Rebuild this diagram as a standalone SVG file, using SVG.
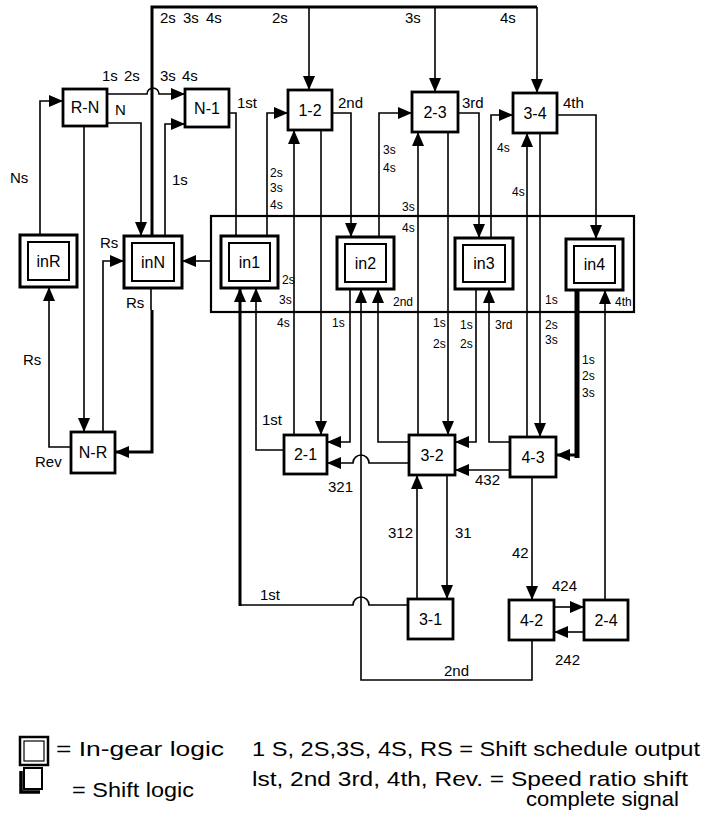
<svg xmlns="http://www.w3.org/2000/svg" width="704" height="823" viewBox="0 0 704 823">
<style>
.ln{fill:none;stroke:#000;stroke-width:1.6}
.th{fill:none;stroke:#000;stroke-width:3}
.tk{fill:none;stroke:#000;stroke-width:5}
.box{fill:#fff;stroke:#000;stroke-width:2.8}
.igo{fill:#fff;stroke:#000;stroke-width:3}
.igi{fill:none;stroke:#000;stroke-width:2}
text{font-family:"Liberation Sans",Arial,sans-serif;fill:#000}
.nt{font-size:16px;text-anchor:middle}
.lb{font-size:15px}
.sm{font-size:12px}
.lg{font-size:21px}
</style>
<defs>
<marker id="a" markerWidth="15" markerHeight="13" refX="14" refY="6" orient="auto" markerUnits="userSpaceOnUse">
<path d="M0,0 L14,6 L0,12 z" fill="#000"/>
</marker>
</defs>

<rect id="ingear-area" x="211" y="216" width="423" height="96" fill="none" stroke="#000" stroke-width="2.2"/>

<g id="inR"><rect class="igo" x="20" y="235" width="57" height="52"/><rect class="igi" x="28" y="242" width="41" height="38"/><text class="nt" x="48.5" y="267">inR</text></g>
<g id="inN"><rect class="igo" x="124" y="236" width="58" height="52"/><rect class="igi" x="132" y="243" width="42" height="38"/><text class="nt" x="153" y="268">inN</text></g>
<g id="in1"><rect class="igo" x="221" y="236" width="57" height="52"/><rect class="igi" x="229" y="243" width="41" height="38"/><text class="nt" x="249.5" y="268">in1</text></g>
<g id="in2"><rect class="igo" x="337" y="237" width="57" height="52"/><rect class="igi" x="345" y="244" width="41" height="38"/><text class="nt" x="365.5" y="269">in2</text></g>
<g id="in3"><rect class="igo" x="455" y="238" width="58" height="51"/><rect class="igi" x="463" y="245" width="42" height="37"/><text class="nt" x="484" y="269">in3</text></g>
<g id="in4"><rect class="igo" x="566" y="239" width="57" height="51"/><rect class="igi" x="574" y="246" width="41" height="37"/><text class="nt" x="594.5" y="270">in4</text></g>

<g id="R-N"><rect class="box" x="63" y="89" width="44" height="37"/><text class="nt" x="85" y="113">R-N</text></g>
<g id="N-1"><rect class="box" x="185" y="89" width="44" height="38"/><text class="nt" x="207" y="114">N-1</text></g>
<g id="s1-2"><rect class="box" x="288" y="90" width="44" height="40"/><text class="nt" x="310" y="116">1-2</text></g>
<g id="s2-3"><rect class="box" x="412" y="92" width="46" height="40"/><text class="nt" x="435" y="118">2-3</text></g>
<g id="s3-4"><rect class="box" x="513" y="93" width="44" height="40"/><text class="nt" x="535" y="119">3-4</text></g>
<g id="N-R"><rect class="box" x="71" y="432" width="44" height="41"/><text class="nt" x="93" y="458">N-R</text></g>
<g id="s2-1"><rect class="box" x="284" y="435" width="43" height="39"/><text class="nt" x="305.5" y="460">2-1</text></g>
<g id="s3-2"><rect class="box" x="409" y="435" width="46" height="40"/><text class="nt" x="432" y="461">3-2</text></g>
<g id="s4-3"><rect class="box" x="510" y="437" width="46" height="40"/><text class="nt" x="533" y="463">4-3</text></g>
<g id="s3-1"><rect class="box" x="408" y="599" width="45" height="40"/><text class="nt" x="430.5" y="625">3-1</text></g>
<g id="s4-2"><rect class="box" x="509" y="600" width="45" height="40"/><text class="nt" x="531.5" y="626">4-2</text></g>
<g id="s2-4"><rect class="box" x="584" y="600" width="44" height="40"/><text class="nt" x="606" y="626">2-4</text></g>

<g id="connectors">
<path class="ln" d="M40,235 V101 H63" marker-end="url(#a)"/>
<path class="ln" d="M107,94 H147 A6,6 0 0 1 159,94 H185" marker-end="url(#a)"/>
<path class="ln" d="M107,123 H141 V236" marker-end="url(#a)"/>
<path class="ln" d="M84,126 V432" marker-end="url(#a)"/>
<path class="th" d="M152,236 V7 H537"/>
<path class="ln" d="M309,7 V90" marker-end="url(#a)"/>
<path class="ln" d="M435,7 V92" marker-end="url(#a)"/>
<path class="ln" d="M537,7 V93" marker-end="url(#a)"/>
<path class="ln" d="M165,236 V124 H185" marker-end="url(#a)"/>
<path class="ln" d="M229,113 H236 V236"/>
<path class="ln" d="M267,236 V113 H288" marker-end="url(#a)"/>
<path class="ln" d="M332,113 H351 V237" marker-end="url(#a)"/>
<path class="ln" d="M379,237 V113 H412" marker-end="url(#a)"/>
<path class="ln" d="M458,113 H479 V238" marker-end="url(#a)"/>
<path class="ln" d="M491,238 V115 H513" marker-end="url(#a)"/>
<path class="ln" d="M557,115 H596 V239" marker-end="url(#a)"/>
<path class="ln" d="M294,435 V130" marker-end="url(#a)"/>
<path class="ln" d="M321,130 V435" marker-end="url(#a)"/>
<path class="ln" d="M418,435 V132" marker-end="url(#a)"/>
<path class="ln" d="M448,132 V435" marker-end="url(#a)"/>
<path class="ln" d="M527,437 V133" marker-end="url(#a)"/>
<path class="ln" d="M540,133 V437" marker-end="url(#a)"/>
<path class="ln" d="M211,261 H182" marker-end="url(#a)"/>
<path class="ln" d="M103,432 V261 H124" marker-end="url(#a)"/>
<path class="ln" d="M151,288 V310"/>
<path class="th" d="M152,310 V452 H115" marker-end="url(#a)"/>
<path class="ln" d="M71,447 H49 V287" marker-end="url(#a)"/>
<path class="ln" d="M284,450 H256 V288" marker-end="url(#a)"/>
<path class="ln" d="M408,605 H369 A8,8 0 0 0 353,605 H240"/>
<path class="th" d="M240,606 V288" stroke-width="3.5" marker-end="url(#a)"/>
<path class="ln" d="M350,289 V442 H327" marker-end="url(#a)"/>
<path class="ln" d="M409,442 H378 V289" marker-end="url(#a)"/>
<path class="ln" d="M532,640 V680 H361 V289" marker-end="url(#a)"/>
<path class="ln" d="M409,463 H369 A8,8 0 0 0 353,463 H327" marker-end="url(#a)"/>
<path class="ln" d="M476,289 V442 H455" marker-end="url(#a)"/>
<path class="ln" d="M510,442 H489 V289" marker-end="url(#a)"/>
<path class="ln" d="M510,470 H455" marker-end="url(#a)"/>
<path class="tk" d="M577,290 V458"/>
<path class="th" d="M575,455 H556" marker-end="url(#a)"/>
<path class="ln" d="M605,600 V290" marker-end="url(#a)"/>
<path class="ln" d="M417,599 V475" marker-end="url(#a)"/>
<path class="ln" d="M447,475 V599" marker-end="url(#a)"/>
<path class="ln" d="M532,477 V600" marker-end="url(#a)"/>
<path class="ln" d="M554,607 H584" marker-end="url(#a)"/>
<path class="ln" d="M584,632 H554" marker-end="url(#a)"/>
</g>

<g id="labels">
<text class="lb" x="160" y="23" word-spacing="3">2s 3s 4s</text>
<text class="lb" x="272" y="23">2s</text>
<text class="lb" x="405" y="23">3s</text>
<text class="lb" x="500" y="23">4s</text>
<text class="lb" x="102" y="81" word-spacing="2">1s 2s</text>
<text class="lb" x="160" y="81" word-spacing="2">3s 4s</text>
<text class="lb" x="115" y="115">N</text>
<text class="lb" x="10" y="183">Ns</text>
<text class="lb" x="172" y="185">1s</text>
<text class="lb" x="237" y="108">1st</text>
<text class="lb" x="338" y="108">2nd</text>
<text class="lb" x="462" y="108">3rd</text>
<text class="lb" x="563" y="108">4th</text>
<text class="sm" x="270" y="177">2s</text>
<text class="sm" x="270" y="192">3s</text>
<text class="sm" x="270" y="209">4s</text>
<text class="sm" x="383" y="154">3s</text>
<text class="sm" x="383" y="172">4s</text>
<text class="sm" x="497" y="152">4s</text>
<text class="sm" x="512" y="196">4s</text>
<text class="sm" x="402" y="211">3s</text>
<text class="sm" x="402" y="232">4s</text>
<text class="sm" x="282" y="284">2s</text>
<text class="sm" x="279" y="304">3s</text>
<text class="sm" x="277" y="327">4s</text>
<text class="sm" x="332" y="327">1s</text>
<text class="sm" x="393" y="306">2nd</text>
<text class="sm" x="433" y="327">1s</text>
<text class="sm" x="433" y="348">2s</text>
<text class="sm" x="460" y="329">1s</text>
<text class="sm" x="460" y="348">2s</text>
<text class="sm" x="495" y="329">3rd</text>
<text class="sm" x="545" y="304">1s</text>
<text class="sm" x="545" y="329">2s</text>
<text class="sm" x="545" y="344">3s</text>
<text class="sm" x="582" y="364">1s</text>
<text class="sm" x="582" y="380">2s</text>
<text class="sm" x="582" y="397">3s</text>
<text class="sm" x="615" y="306">4th</text>
<text class="lb" x="100" y="248">Rs</text>
<text class="lb" x="126" y="308">Rs</text>
<text class="lb" x="23" y="365">Rs</text>
<text class="lb" x="35" y="467">Rev</text>
<text class="lb" x="262" y="425">1st</text>
<text class="lb" x="328" y="492">321</text>
<text class="lb" x="475" y="485">432</text>
<text class="lb" x="388" y="538">312</text>
<text class="lb" x="455" y="538">31</text>
<text class="lb" x="512" y="558">42</text>
<text class="lb" x="552" y="591">424</text>
<text class="lb" x="555" y="665">242</text>
<text class="lb" x="260" y="600">1st</text>
<text class="lb" x="444" y="676">2nd</text>
</g>

<g id="legend">
<rect x="20" y="737" width="28" height="28" fill="#fff" stroke="#000" stroke-width="2.5"/>
<rect x="24" y="741" width="20" height="20" fill="none" stroke="#000" stroke-width="1.2"/>
<text class="lg" x="56" y="756" textLength="168" lengthAdjust="spacingAndGlyphs">= In-gear logic</text>
<text class="lg" x="252" y="756" textLength="448" lengthAdjust="spacingAndGlyphs">1 S, 2S,3S, 4S, RS = Shift schedule output</text>
<path d="M21,771 V792 H40" fill="none" stroke="#000" stroke-width="3.5"/>
<rect x="24" y="768" width="18" height="21" fill="#fff" stroke="#000" stroke-width="2"/>
<text class="lg" x="72" y="797" font-size="19" textLength="122" lengthAdjust="spacingAndGlyphs">= Shift logic</text>
<text class="lg" x="252" y="786" textLength="436" lengthAdjust="spacingAndGlyphs">lst, 2nd 3rd, 4th, Rev. = Speed ratio shift</text>
<text class="lg" x="526" y="806" textLength="153" lengthAdjust="spacingAndGlyphs">complete signal</text>
</g>
</svg>
